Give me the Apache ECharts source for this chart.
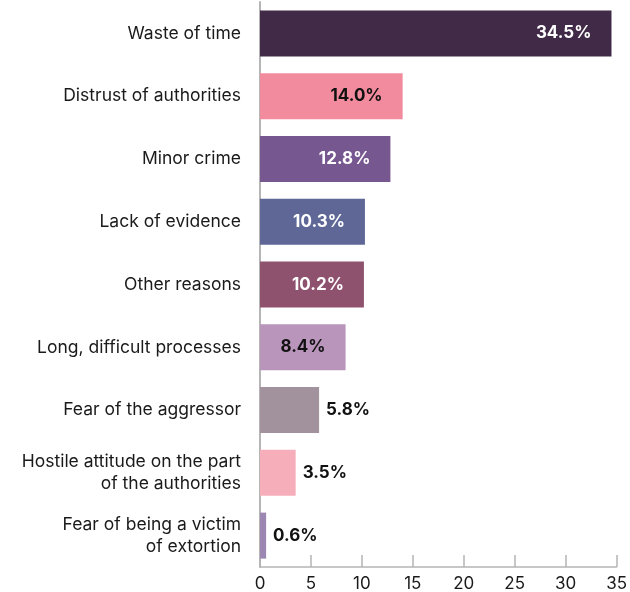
<!DOCTYPE html>
<html>
<head>
<meta charset="utf-8">
<script src="https://cdn.jsdelivr.net/npm/echarts@6/dist/echarts.min.js"></script>
<style>
  html, body { margin: 0; padding: 0; background: #fff; }
  #chart { width: 630px; height: 592px; }
</style>
</head>
<body>
<div id="chart"></div>
<script>
// Reasons for not reporting, share of respondents (%)
const categories = [
  'Waste of time',
  'Distrust of authorities',
  'Minor crime',
  'Lack of evidence',
  'Other reasons',
  'Long, difficult processes',
  'Fear of the aggressor',
  'Hostile attitude on the part\nof the authorities',
  'Fear of being a victim\nof extortion'
];
const values = [34.5, 14.0, 12.8, 10.3, 10.2, 8.4, 5.8, 3.5, 0.6];
const barColors = ['#402a47', '#f28b9e', '#76578f', '#5e6796', '#8e526f', '#b994bb', '#a2929e', '#f7aebb', '#9b87b1'];
const xTicks = [0, 5, 10, 15, 20, 25, 30, 35];

// label placement per bar: inside (white / dark) or outside
const labelInside = [true, true, true, true, true, true, false, false, false];
const labelColors = ['#ffffff', '#111111', '#ffffff', '#ffffff', '#ffffff', '#111111', '#111111', '#111111', '#111111'];

const FONT = 'Inter, "Open Sans", sans-serif';

const chart = echarts.init(document.getElementById('chart'));
chart.setOption({
  animation: false,
  grid: { left: 260, right: 13, top: 2, bottom: 24, containLabel: false },
  xAxis: {
    type: 'value',
    min: xTicks[0],
    max: xTicks[xTicks.length - 1],
    interval: 5,
    splitLine: { show: false },
    axisLine: { show: true, lineStyle: { color: '#b5b5b5', width: 1.5 } },
    axisTick: { show: true, inside: true, length: 12, lineStyle: { color: '#b5b5b5', width: 1.5 } },
    axisLabel: { color: '#1a1a1a', fontSize: 17, fontFamily: FONT, margin: 8 }
  },
  yAxis: {
    type: 'category',
    data: categories,
    inverse: true,
    axisLine: { show: true, lineStyle: { color: '#b5b5b5', width: 2 } },
    axisTick: { show: false },
    axisLabel: {
      color: '#1a1a1a', fontSize: 17.5, fontFamily: FONT, margin: 19,
      align: 'right', lineHeight: 22
    }
  },
  series: [{
    type: 'bar',
    barWidth: 46,
    data: values.map((v, i) => ({
      value: v,
      itemStyle: { color: barColors[i] },
      label: {
        show: true,
        position: labelInside[i] ? 'insideRight' : 'right',
        distance: labelInside[i] ? 20 : 7,
        color: labelColors[i],
        fontWeight: 'bold',
        fontSize: 17,
        fontFamily: FONT,
        formatter: p => p.value.toFixed(1) + '%'
      }
    }))
  }]
});
</script>
</body>
</html>
